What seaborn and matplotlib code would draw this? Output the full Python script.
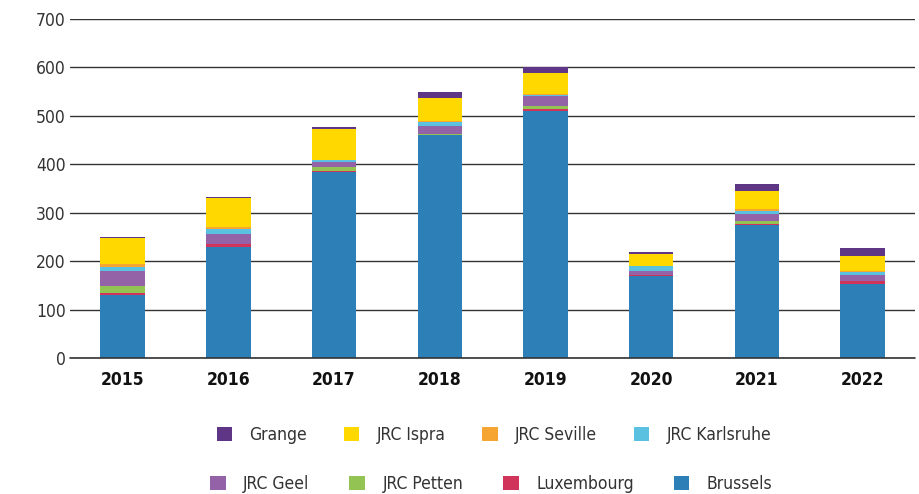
import matplotlib
matplotlib.use("Agg")
import matplotlib.pyplot as plt
import seaborn as sns
import pandas as pd
from matplotlib.patches import Patch

years = ["2015", "2016", "2017", "2018", "2019", "2020", "2021", "2022"]

# bottom to top
sites = ["Brussels", "Luxembourg", "JRC Petten", "JRC Geel",
         "JRC Karlsruhe", "JRC Seville", "JRC Ispra", "Grange"]

brussels = [130, 230, 384, 460, 510, 170, 275, 154]
luxembourg = [5, 5, 2, 1, 5, 1.5, 2, 5]
petten = [14.5, 1, 8, 2, 6, 0, 6, 0]
geel = [31, 21, 10, 16.5, 21, 8, 14, 12.5]
karlsruhe = [8, 9, 5, 8, 2, 11, 7, 7]
seville = [5, 4, 1, 1.5, 2, 0, 4, 1]
ispra = [54, 61, 63, 48, 43, 24, 37, 32]
grange = [3, 2, 5, 12, 12, 4, 14, 16.5]

colors = {
    "Brussels": "#2d7fb8",
    "Luxembourg": "#d1345b",
    "JRC Petten": "#93c453",
    "JRC Geel": "#9462a6",
    "JRC Karlsruhe": "#5bc1e0",
    "JRC Seville": "#f7a532",
    "JRC Ispra": "#ffd800",
    "Grange": "#5f3585",
}

legend_row1 = ["Grange", "JRC Ispra", "JRC Seville", "JRC Karlsruhe"]
legend_row2 = ["JRC Geel", "JRC Petten", "Luxembourg", "Brussels"]


def main():
    sns.set_theme(style="white")
    plt.rcParams["font.family"] = ["DejaVu Sans"]
    plt.rcParams["font.stretch"] = "condensed"
    text_col = "#333333"

    values = [brussels, luxembourg, petten, geel, karlsruhe, seville, ispra, grange]
    df = pd.DataFrame({s: v for s, v in zip(sites, values)}, index=years)
    cum = df.cumsum(axis=1)

    fig = plt.figure(figsize=(9.19, 4.94), dpi=100)
    ax = fig.add_axes([0.076, 0.275, 0.92, 0.6865])

    # draw cumulative totals from the top layer down so each covers the next
    for s in reversed(sites):
        sns.barplot(x=years, y=cum[s].values, color=colors[s], width=0.42,
                    saturation=1, ax=ax, zorder=3, linewidth=0, edgecolor="none")

    ax.set_ylim(0, 700)
    ax.set_yticks(range(0, 701, 100))
    ax.set_xlim(-0.5, 7.5)
    ax.yaxis.grid(True, color="#333333", linewidth=1.0, zorder=0)
    ax.set_axisbelow(True)
    ax.axhline(0, color="#333333", linewidth=1.2, zorder=4, clip_on=False)
    for sp in ax.spines.values():
        sp.set_visible(False)
    ax.tick_params(axis="y", labelsize=12.5, labelcolor=text_col, length=0, pad=3)
    ax.tick_params(axis="x", labelsize=12.5, labelcolor="#111111", length=0, pad=9)
    for lab in ax.get_xticklabels():
        lab.set_fontweight("bold")
    ax.set_xlabel("")
    ax.set_ylabel("")

    # two independent legend rows (items are not column-aligned in the original)
    for row, ypos, xpos, cs in [(legend_row1, 0.119, 0.5375, 2.1),
                                (legend_row2, 0.02, 0.5345, 2.3)]:
        handles = [Patch(facecolor=colors[s], edgecolor="none", label=s) for s in row]
        leg = fig.legend(handles=handles, loc="center", bbox_to_anchor=(xpos, ypos),
                         ncol=4, frameon=False, fontsize=12.5, handlelength=0.9,
                         handleheight=0.9, handletextpad=1.0, columnspacing=cs,
                         borderpad=0, borderaxespad=0)
        for t in leg.get_texts():
            t.set_color(text_col)

    fig.savefig("out.png", dpi=100)
    plt.close(fig)


if __name__ == "__main__":
    main()
